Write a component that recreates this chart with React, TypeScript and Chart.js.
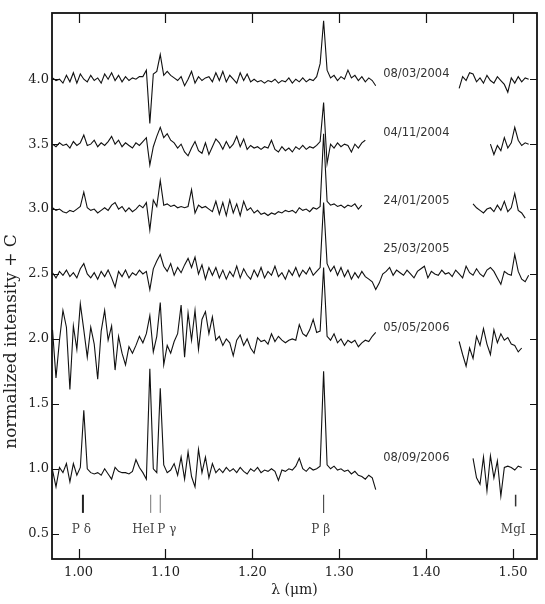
import React, { useEffect, useRef } from "react";
import { Chart, registerables } from "chart.js";

Chart.register(...registerables);

const _ = null;

// wavelength grid (µm)
const wavelengths = [
  0.970, 0.974, 0.978, 0.982, 0.986, 0.990, 0.994, 0.998, 1.002, 1.006,
  1.010, 1.014, 1.018, 1.022, 1.026, 1.030, 1.034, 1.038, 1.042, 1.046,
  1.050, 1.054, 1.058, 1.062, 1.066, 1.070, 1.074, 1.078, 1.082, 1.086,
  1.090, 1.094, 1.098, 1.102, 1.106, 1.110, 1.114, 1.118, 1.122, 1.126,
  1.130, 1.134, 1.138, 1.142, 1.146, 1.150, 1.154, 1.158, 1.162, 1.166,
  1.170, 1.174, 1.178, 1.182, 1.186, 1.190, 1.194, 1.198, 1.202, 1.206,
  1.210, 1.214, 1.218, 1.222, 1.226, 1.230, 1.234, 1.238, 1.242, 1.246,
  1.250, 1.254, 1.258, 1.262, 1.266, 1.270, 1.274, 1.278, 1.282, 1.286,
  1.290, 1.294, 1.298, 1.302, 1.306, 1.310, 1.314, 1.318, 1.322, 1.326,
  1.330, 1.334, 1.338, 1.342, 1.346, 1.350, 1.354, 1.358, 1.362, 1.366,
  1.370, 1.374, 1.378, 1.382, 1.386, 1.390, 1.394, 1.398, 1.402, 1.406,
  1.410, 1.414, 1.418, 1.422, 1.426, 1.430, 1.434, 1.438, 1.442, 1.446,
  1.450, 1.454, 1.458, 1.462, 1.466, 1.470, 1.474, 1.478, 1.482, 1.486,
  1.490, 1.494, 1.498, 1.502, 1.506, 1.510, 1.514, 1.518, 1.522,
];

// normalized intensity + C (C = 3.0)
const spec20040308 = [
  4.01, 3.99, 4.00, 3.97, 4.03, 3.98, 4.05, 3.97, 4.04, 4.00,
  3.98, 4.03, 3.99, 4.01, 3.97, 4.04, 4.00, 4.05, 3.99, 4.03,
  3.98, 4.02, 3.99, 4.01, 4.00, 4.02, 4.02, 4.07, 3.66, 4.04,
  4.06, 4.19, 4.03, 4.06, 4.03, 4.01, 3.99, 4.02, 3.95, 4.00,
  4.06, 3.97, 4.02, 3.99, 4.01, 4.02, 3.98, 4.05, 3.99, 4.06,
  3.98, 4.03, 4.00, 3.97, 4.05, 3.99, 4.04, 3.98, 4.00, 3.98,
  3.99, 3.97, 3.99, 3.98, 4.00, 3.97, 3.99, 3.98, 4.01, 3.97,
  4.00, 3.98, 4.01, 3.98, 4.00, 3.99, 4.02, 4.12, 4.45, 4.07,
  4.01, 4.03, 3.99, 4.02, 4.00, 4.07, 4.01, 4.03, 3.99, 4.02,
  3.98, 4.01, 3.99, 3.95, _, _, _, _, _, _,
  _, _, _, _, _, _, _, _, _, _,
  _, _, _, _, _, _, _, 3.93, 4.02, 3.99,
  4.05, 4.04, 3.98, 4.01, 3.97, 4.03, 3.99, 3.97, 4.02, 3.99,
  3.96, 3.90, 4.01, 3.97, 4.02, 3.98, 4.01, 4.00, _,
];

// C = 2.5
const spec20041104 = [
  3.50, 3.48, 3.51, 3.49, 3.50, 3.47, 3.52, 3.49, 3.51, 3.57,
  3.49, 3.50, 3.53, 3.48, 3.51, 3.49, 3.52, 3.56, 3.50, 3.53,
  3.48, 3.51, 3.49, 3.47, 3.51, 3.49, 3.52, 3.55, 3.34, 3.48,
  3.56, 3.63, 3.55, 3.58, 3.53, 3.51, 3.47, 3.50, 3.44, 3.41,
  3.47, 3.52, 3.45, 3.43, 3.51, 3.42, 3.48, 3.54, 3.51, 3.46,
  3.52, 3.47, 3.50, 3.56, 3.48, 3.54, 3.46, 3.49, 3.47, 3.48,
  3.46, 3.48, 3.47, 3.53, 3.46, 3.44, 3.48, 3.45, 3.47, 3.44,
  3.48, 3.46, 3.49, 3.46, 3.48, 3.47, 3.49, 3.52, 3.82, 3.35,
  3.50, 3.47, 3.51, 3.48, 3.50, 3.49, 3.44, 3.50, 3.47, 3.51,
  3.53, _, _, _, _, _, _, _, _, _,
  _, _, _, _, _, _, _, _, _, _,
  _, _, _, _, _, _, _, _, _, _,
  _, _, _, _, _, _, 3.50, 3.42, 3.49, 3.45,
  3.55, 3.47, 3.51, 3.63, 3.53, 3.49, 3.51, 3.50, _,
];

// C = 2.0
const spec20050124 = [
  3.01, 2.99, 3.00, 2.98, 2.97, 2.99, 2.98, 3.00, 3.02, 3.13,
  3.01, 2.99, 3.00, 2.97, 2.99, 3.01, 2.99, 3.03, 3.05, 3.00,
  3.02, 2.98, 3.01, 2.98, 3.00, 3.03, 3.01, 3.05, 2.84, 3.07,
  3.02, 3.22, 3.03, 3.04, 3.02, 3.03, 3.01, 3.02, 3.01, 3.02,
  3.15, 2.97, 3.03, 3.01, 3.02, 3.00, 2.98, 3.06, 2.96, 3.05,
  2.95, 3.07, 2.97, 3.04, 2.95, 3.06, 2.99, 3.01, 2.97, 2.99,
  2.96, 2.97, 2.95, 2.97, 2.96, 2.98, 2.97, 2.99, 2.98, 2.99,
  2.97, 3.01, 2.99, 3.00, 2.98, 3.01, 3.00, 3.02, 3.58, 3.06,
  3.03, 3.04, 3.02, 3.03, 3.01, 3.03, 3.02, 3.04, 3.00, 3.03,
  _, _, _, _, _, _, _, _, _, _,
  _, _, _, _, _, _, _, _, _, _,
  _, _, _, _, _, _, _, _, _, _,
  _, 3.04, 3.01, 2.99, 2.97, 3.00, 3.01, 2.98, 3.03, 2.99,
  3.06, 2.98, 3.01, 3.12, 2.99, 2.97, 2.93, _, _,
];

// C = 1.5
const spec20050325 = [
  2.51, 2.47, 2.52, 2.49, 2.53, 2.48, 2.51, 2.47, 2.54, 2.58,
  2.50, 2.47, 2.51, 2.46, 2.52, 2.48, 2.53, 2.47, 2.40, 2.52,
  2.48, 2.53, 2.47, 2.51, 2.49, 2.53, 2.50, 2.52, 2.38, 2.54,
  2.60, 2.65, 2.56, 2.52, 2.58, 2.49, 2.55, 2.51, 2.57, 2.62,
  2.55, 2.63, 2.50, 2.57, 2.46, 2.55, 2.49, 2.55, 2.47, 2.53,
  2.46, 2.52, 2.48, 2.56, 2.47, 2.54, 2.49, 2.46, 2.53, 2.48,
  2.55, 2.47, 2.52, 2.49, 2.56, 2.48, 2.51, 2.46, 2.53, 2.49,
  2.55, 2.48, 2.53, 2.50, 2.55, 2.49, 2.52, 2.55, 3.05, 2.58,
  2.52, 2.56, 2.49, 2.55, 2.48, 2.53, 2.46, 2.51, 2.47, 2.52,
  2.48, 2.46, 2.44, 2.38, 2.43, 2.50, 2.52, 2.55, 2.49, 2.53,
  2.51, 2.49, 2.53, 2.50, 2.47, 2.52, 2.54, 2.56, 2.47, 2.52,
  2.50, 2.49, 2.53, 2.50, 2.51, 2.48, 2.53, 2.50, 2.47, 2.56,
  2.51, 2.49, 2.54, 2.50, 2.48, 2.53, 2.55, 2.52, 2.47, 2.42,
  2.52, 2.50, 2.49, 2.65, 2.52, 2.46, 2.44, 2.49, _,
];

// C = 1.0
const spec20060505 = [
  2.07, 1.70, 1.99, 2.22, 2.09, 1.61, 2.10, 1.92, 2.27, 2.07,
  1.86, 2.09, 1.96, 1.69, 2.06, 2.22, 1.99, 2.10, 1.76, 2.02,
  1.89, 1.80, 1.94, 1.89, 1.95, 2.02, 1.97, 2.04, 2.18, 1.90,
  2.02, 2.28, 1.80, 1.95, 1.89, 1.98, 2.04, 2.26, 1.86, 2.20,
  1.99, 2.22, 1.92, 2.15, 2.21, 2.04, 2.17, 1.99, 2.02, 1.95,
  2.00, 1.97, 1.87, 1.99, 2.03, 1.95, 2.00, 1.93, 1.89, 2.01,
  1.98, 1.99, 1.96, 2.04, 1.98, 2.02, 1.99, 1.97, 1.99, 2.00,
  1.99, 2.11, 2.04, 2.02, 2.07, 2.15, 2.05, 2.06, 2.55, 2.02,
  1.99, 2.04, 1.97, 2.00, 1.95, 1.99, 1.97, 1.99, 1.94, 1.97,
  1.99, 1.98, 2.02, 2.05, _, _, _, _, _, _,
  _, _, _, _, _, _, _, _, _, _,
  _, _, _, _, _, _, _, 1.98, 1.88, 1.79,
  1.93, 1.85, 2.02, 1.95, 2.08, 1.96, 1.88, 2.07, 1.97, 2.04,
  1.99, 2.01, 1.96, 1.95, 1.90, 1.93, _, _, _,
];

// C = 0
const spec20060908 = [
  0.99, 0.86, 1.01, 0.97, 1.04, 0.90, 1.04, 0.95, 1.01, 1.45,
  1.00, 0.97, 0.96, 0.97, 0.95, 1.00, 0.96, 0.92, 1.01, 0.98,
  0.97, 0.97, 0.96, 0.98, 1.07, 1.01, 0.97, 0.92, 1.77, 1.00,
  0.97, 1.62, 1.03, 0.97, 0.99, 1.04, 0.95, 1.09, 0.92, 1.13,
  0.94, 0.86, 1.15, 0.97, 1.09, 0.93, 1.04, 0.97, 1.00, 0.97,
  1.01, 0.98, 1.00, 0.97, 1.01, 0.98, 0.96, 1.00, 0.98, 1.01,
  0.97, 0.99, 0.98, 1.00, 0.98, 0.91, 0.99, 0.98, 1.00, 0.99,
  1.02, 1.08, 1.00, 0.98, 1.01, 0.99, 1.00, 1.02, 1.75, 1.03,
  1.00, 1.02, 0.99, 1.00, 0.98, 0.99, 0.96, 0.98, 0.95, 0.94,
  0.92, 0.95, 0.93, 0.84, _, _, _, _, _, _,
  _, _, _, _, _, _, _, _, _, _,
  _, _, _, _, _, _, _, _, _, _,
  _, 1.08, 0.93, 0.88, 1.09, 0.83, 1.10, 0.93, 1.06, 0.79,
  1.01, 1.02, 1.01, 0.99, 1.02, 1.01, _, _, _,
];

const spectra = [spec20040308, spec20041104, spec20050124, spec20050325, spec20060505, spec20060908];
const epochs = ["08/03/2004", "04/11/2004", "24/01/2005", "25/03/2005", "05/05/2006", "08/09/2006"];

const xTicks = [1.0, 1.1, 1.2, 1.3, 1.4, 1.5];
const yTicks = [0.5, 1.0, 1.5, 2.0, 2.5, 3.0, 3.5, 4.0];

// spectral line identifications
const lineNames = ["P δ", "HeI", "P γ", "P β", "MgI"];
const lineWavelengths = [1.005, 1.083, 1.094, 1.282, 1.503];
const lineMarkTop = [0.8, 0.8, 0.8, 0.8, 0.8];
const lineMarkBottom = [0.66, 0.66, 0.66, 0.66, 0.71];

// annotation anchors (data coordinates) and styles
const yTitle = "normalized intensity + C";
const yTitleCenter = 1.98;
const epochLabelX = 1.3506;
const epochLabelY = [4.04, 3.585, 3.06, 2.69, 2.085, 1.085];
const lineLabelX = [1.0032, 1.0745, 1.1015, 1.2787, 1.5002];
const lineLabelY = 0.53;
const markWidths = [2, 1, 1, 1.1, 1.5];
const markColors = ["#222", "#777", "#777", "#444", "#333"];

const decorPlugin = {
  id: "decor",
  afterDraw(chart: any) {
    const { ctx, chartArea: a, scales } = chart;
    const xs = scales.x;
    const ys = scales.y;
    ctx.save();
    ctx.strokeStyle = "#111";
    ctx.lineWidth = 1.8;
    ctx.strokeRect(a.left, a.top, a.right - a.left, a.bottom - a.top);
    ctx.lineWidth = 1.2;
    ctx.beginPath();
    xTicks.forEach((v) => {
      const px = Math.round(xs.getPixelForValue(v)) + 0.5;
      ctx.moveTo(px, a.bottom);
      ctx.lineTo(px, a.bottom - 10);
      ctx.moveTo(px, a.top);
      ctx.lineTo(px, a.top + 10);
    });
    yTicks.forEach((v) => {
      const py = Math.round(ys.getPixelForValue(v)) + 0.5;
      ctx.moveTo(a.left, py);
      ctx.lineTo(a.left + 7, py);
      ctx.moveTo(a.right, py);
      ctx.lineTo(a.right - 7, py);
    });
    ctx.stroke();

    // y axis title
    ctx.save();
    ctx.translate(12, ys.getPixelForValue(yTitleCenter));
    ctx.rotate(-Math.PI / 2);
    ctx.font = '17px "DejaVu Serif"';
    ctx.fillStyle = "#222";
    ctx.textAlign = "center";
    ctx.textBaseline = "middle";
    ctx.fillText(yTitle, 0, 0);
    ctx.restore();

    ctx.font = '11.5px "DejaVu Sans"';
    ctx.fillStyle = "#333";
    ctx.textAlign = "left";
    ctx.textBaseline = "middle";
    epochs.forEach((t, i) => {
      ctx.fillText(t, xs.getPixelForValue(epochLabelX), ys.getPixelForValue(epochLabelY[i]));
    });

    ctx.font = '12px "DejaVu Serif"';
    ctx.fillStyle = "#444";
    ctx.textAlign = "center";
    lineNames.forEach((t, i) => {
      ctx.fillText(t, xs.getPixelForValue(lineLabelX[i]), ys.getPixelForValue(lineLabelY));
    });
    ctx.restore();
  },
};

export default function App() {
  const ref = useRef<HTMLCanvasElement>(null);

  useEffect(() => {
    const canvas = ref.current;
    if (!canvas) return;
    const spectrumSets = spectra.map((s, i) => ({
      label: epochs[i],
      data: wavelengths.map((w, k) => ({ x: w, y: s[k] })),
      borderColor: "#111",
      borderWidth: 1.1,
      pointRadius: 0,
      tension: 0,
      spanGaps: false,
    }));
    const markSets = lineWavelengths.map((w, i) => ({
      label: lineNames[i],
      data: [
        { x: w, y: lineMarkBottom[i] },
        { x: w, y: lineMarkTop[i] },
      ],
      borderColor: markColors[i],
      borderWidth: markWidths[i],
      pointRadius: 0,
    }));
    const serif = "DejaVu Serif";
    const chart = new Chart(canvas, {
      type: "line",
      data: { datasets: [...spectrumSets, ...markSets] as any },
      options: {
        animation: false,
        responsive: false,
        devicePixelRatio: 1,
        layout: { padding: { top: 13, right: 8, left: 0, bottom: 0 } },
        plugins: { legend: { display: false }, tooltip: { enabled: false } },
        scales: {
          x: {
            type: "linear",
            min: 0.9694,
            max: 1.5276,
            grid: { display: false, drawTicks: false },
            border: { display: false },
            afterBuildTicks: (s: any) => {
              s.ticks = xTicks.map((v) => ({ value: v }));
            },
            afterFit: (s: any) => {
              s.height = 45;
            },
            ticks: {
              padding: 6,
              color: "#222",
              autoSkip: false,
              maxRotation: 0,
              font: { family: serif, size: 13 },
              callback: (v: any) => Number(v).toFixed(2),
            },
            title: {
              display: true,
              text: "λ (μm)",
              color: "#222",
              font: { family: serif, size: 14 },
              padding: { top: 0, bottom: 5 },
            },
          },
          y: {
            type: "linear",
            min: 0.305,
            max: 4.51,
            grid: { display: false, drawTicks: false },
            border: { display: false },
            afterBuildTicks: (s: any) => {
              s.ticks = yTicks.map((v) => ({ value: v }));
            },
            afterFit: (s: any) => {
              s.width = 52;
            },
            ticks: {
              padding: 3,
              color: "#222",
              autoSkip: false,
              font: { family: serif, size: 13 },
              callback: (v: any) => Number(v).toFixed(1),
            },
            title: { display: false },
          },
        },
      } as any,
      plugins: [decorPlugin],
    });
    return () => chart.destroy();
  }, []);

  return (
    <div style={{ position: "fixed", left: 0, top: 0, width: 545, height: 604, background: "#fff" }}>
      <canvas ref={ref} width={545} height={604} style={{ width: 545, height: 604, display: "block" }} />
    </div>
  );
}
